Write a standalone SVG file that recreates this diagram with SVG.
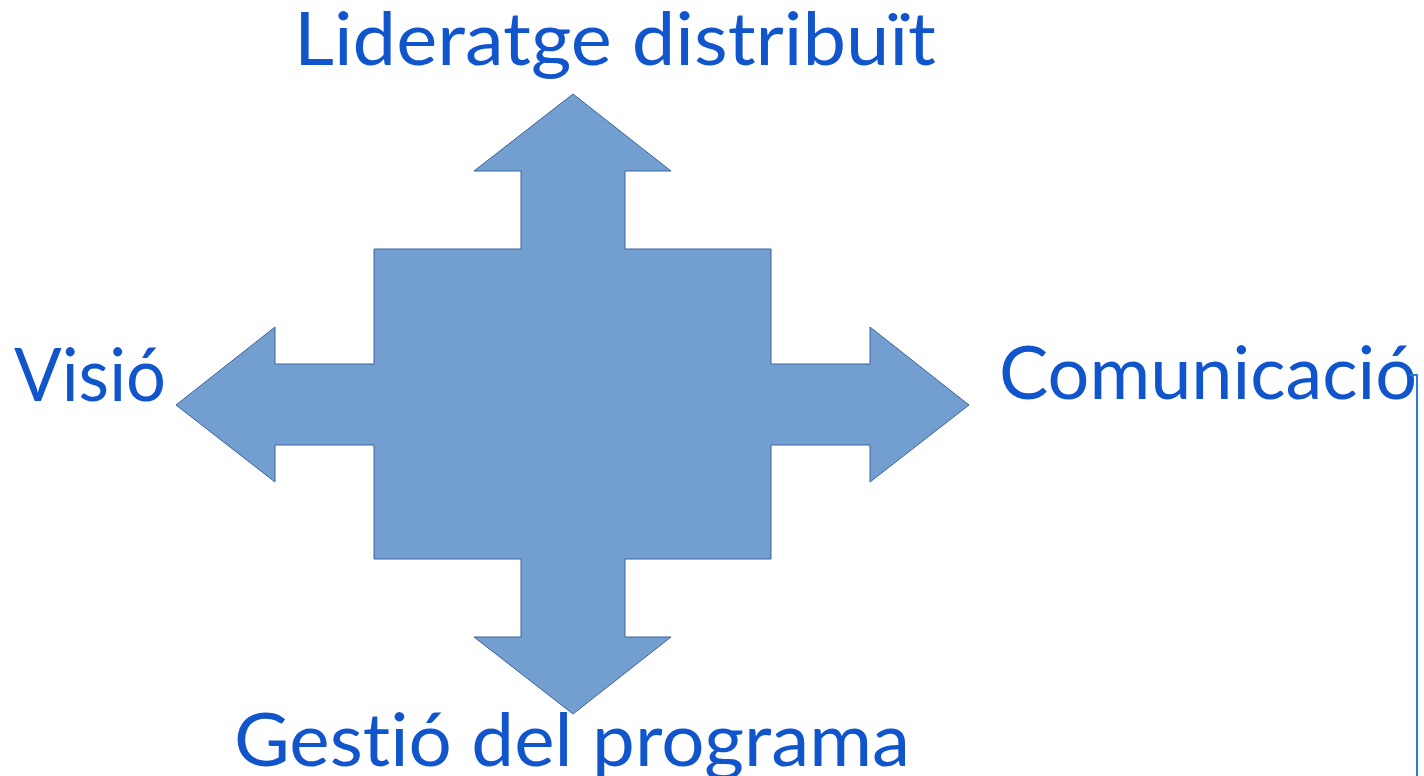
<svg xmlns="http://www.w3.org/2000/svg" width="1424" height="776" viewBox="0 0 1424 776">
<style>
.lbl{font-family:"Lato","Open Sans","Liberation Sans",sans-serif;font-size:74px;fill:#1155cc;font-variant-ligatures:none;font-feature-settings:"liga" 0,"clig" 0}
.shape{fill:#729fcf;stroke:#3b64a0;stroke-width:1}
.conn{fill:none;stroke:#2a7ad4;stroke-width:2}
</style>
<rect width="1424" height="776" fill="#ffffff"/>
<g id="quad-arrow">
<polygon class="shape" points="573,94 671,171 625,171 625,249 771,249 771,364 870,364 870,327 969,405 870,482 870,445 771,445 771,559 625,559 625,637 671,637 573,714 474,637 521,637 521,559 374,559 374,445 275,445 275,482 176,405 275,327 275,364 374,364 374,249 521,249 521,171 474,171"/>
</g>
<g id="label-top"><text class="lbl" x="294" y="65" textLength="642" lengthAdjust="spacingAndGlyphs">Lideratge distribuït</text></g>
<g id="label-left"><text class="lbl" x="14" y="401" textLength="152" lengthAdjust="spacingAndGlyphs">Visió</text></g>
<g id="label-right"><text class="lbl" x="999" y="399" textLength="418" lengthAdjust="spacingAndGlyphs">Comunicació</text></g>
<g id="label-bottom"><text class="lbl" x="234" y="766" textLength="676" lengthAdjust="spacingAndGlyphs">Gestió del programa</text></g>
<g id="connectors">
<polyline class="conn" points="1410,375 1417,375 1417,776"/>
</g>
</svg>
